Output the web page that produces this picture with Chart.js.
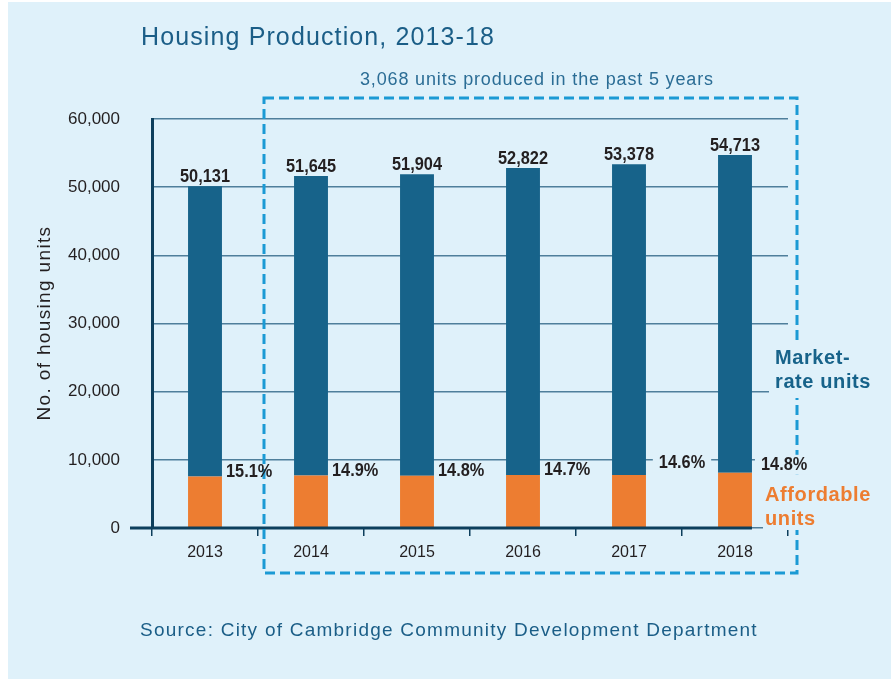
<!DOCTYPE html>
<html>
<head>
<meta charset="utf-8">
<title>Housing Production, 2013-18</title>
<script src="https://cdn.jsdelivr.net/npm/chart.js@4.4.1/dist/chart.umd.min.js"></script>
<style>
  html, body { margin: 0; padding: 0; background: #ffffff; }
  #wrap { width: 891px; height: 679px; }
</style>
</head>
<body>
<div id="wrap"><canvas id="housingChart" width="891" height="679"></canvas></div>
<script>
// housing production by year
const years = ['2013', '2014', '2015', '2016', '2017', '2018'];
const totalUnits = [50131, 51645, 51904, 52822, 53378, 54713];
const affordableShare = ['15.1%', '14.9%', '14.8%', '14.7%', '14.6%', '14.8%'];
const affordableUnits = [7570, 7695, 7682, 7765, 7793, 8098];
const marketRateUnits = [42561, 43950, 44222, 45057, 45585, 46615];
const yTicks = [0, 10000, 20000, 30000, 40000, 50000, 60000];

const BG = '#dff1fa';
const NAVY = '#17638a';
const ORANGE = '#ed7d31';
const AXIS = '#0d3f5c';
const GRID = '#4f7f9b';
const BOX = '#1b9ad4';
const INK = '#231f20';
const TITLE = '#1b5e87';

const SANS = '"Liberation Sans", Arial, sans-serif';

const fmt = n => n.toLocaleString('en-US');

// fills a rectangle with the page colour so text sits on a clean patch
function knockout(ctx, x, y, w, h) {
  ctx.save();
  ctx.fillStyle = BG;
  ctx.fillRect(x, y, w, h);
  ctx.restore();
}

// text spread out to a given width with letter spacing
function spreadText(ctx, text, x, y, width) {
  ctx.save();
  ctx.letterSpacing = '0px';
  const natural = ctx.measureText(text).width;
  ctx.letterSpacing = ((width - natural) / text.length).toFixed(2) + 'px';
  ctx.fillText(text, x, y);
  ctx.restore();
}

// bold figures, squeezed a little to look condensed
function condensed(ctx, text, x, y) {
  ctx.save();
  ctx.translate(x, y);
  ctx.scale(0.86, 1);
  ctx.fillText(text, 0, 0);
  ctx.restore();
}

const background = {
  id: 'background',
  beforeDraw(chart) {
    const { ctx, width, height } = chart;
    ctx.save();
    ctx.fillStyle = '#ffffff';
    ctx.fillRect(0, 0, width, height);
    ctx.fillStyle = BG;
    ctx.fillRect(8, 2, width - 8, height - 2);
    ctx.restore();
  }
};

const decorations = {
  id: 'decorations',
  afterDatasetsDraw(chart) {
    const { ctx, chartArea, scales: { x, y } } = chart;
    const blue = chart.getDatasetMeta(1).data;
    const orange = chart.getDatasetMeta(0).data;
    const last = blue[blue.length - 1];

    // title and source
    ctx.save();
    ctx.fillStyle = TITLE;
    ctx.textBaseline = 'alphabetic';
    ctx.font = '25px ' + SANS;
    spreadText(ctx, 'Housing Production, 2013-18', 141, 45, 354);
    ctx.font = '19px ' + SANS;
    spreadText(ctx, 'Source: City of Cambridge Community Development Department', 140, 636, 618);
    ctx.restore();

    // y axis title
    ctx.save();
    ctx.fillStyle = INK;
    ctx.font = '19px ' + SANS;
    ctx.textBaseline = 'middle';
    ctx.translate(45, (chartArea.top + chartArea.bottom) / 2);
    ctx.rotate(-Math.PI / 2);
    spreadText(ctx, 'No. of housing units', -97, 0, 195);
    ctx.restore();

    // baseline, starting a little left of the y axis
    ctx.save();
    ctx.strokeStyle = AXIS;
    ctx.lineWidth = 3;
    ctx.beginPath();
    ctx.moveTo(chartArea.left - 22, y.getPixelForValue(0));
    ctx.lineTo(last.x + last.width / 2, y.getPixelForValue(0));
    ctx.stroke();
    ctx.restore();

    // dashed frame around the last five years
    const boxL = (x.getPixelForValue(0) + x.getPixelForValue(1)) / 2 + 6;
    const boxR = chartArea.right + 9;
    const boxT = chartArea.top - 21;
    const boxB = chartArea.bottom + 45;
    ctx.save();
    ctx.strokeStyle = BOX;
    ctx.lineWidth = 3;
    ctx.setLineDash([10, 5]);
    ctx.strokeRect(boxL, boxT, boxR - boxL, boxB - boxT);
    ctx.restore();

    ctx.save();
    ctx.fillStyle = '#2b6d95';
    ctx.font = '18px ' + SANS;
    ctx.textBaseline = 'alphabetic';
    spreadText(ctx, '3,068 units produced in the past 5 years', 360, 85, 354);
    ctx.restore();

    // totals above each bar
    ctx.save();
    ctx.fillStyle = INK;
    ctx.font = 'bold 19px ' + SANS;
    ctx.textAlign = 'center';
    ctx.textBaseline = 'bottom';
    blue.forEach((bar, i) => {
      condensed(ctx, fmt(totalUnits[i]), bar.x, bar.y);
    });
    ctx.restore();

    // affordable share beside each bar
    ctx.save();
    ctx.font = 'bold 19px ' + SANS;
    ctx.textBaseline = 'middle';
    orange.forEach((bar, i) => {
      const label = affordableShare[i];
      const w = ctx.measureText(label).width * 0.86;
      let lx = bar.x + bar.width / 2 + 4;
      let ly = bar.y - 5;
      if (i === 4) {
        // 2017 sits on the gridline, halfway to the next bar
        const next = orange[i + 1];
        lx = (bar.x + next.x) / 2 - w / 2;
        ly = y.getPixelForValue(10000) + 3;
        knockout(ctx, lx - 6, ly - 10, w + 12, 20);
      } else if (i === orange.length - 1) {
        lx = bar.x + bar.width / 2 + 9;
        ly = bar.y - 8;
        knockout(ctx, lx - 6, ly - 10, w + 10, 20);
      }
      ctx.fillStyle = INK;
      condensed(ctx, label, lx, ly);
    });
    ctx.restore();

    // series labels on the right
    const lx = boxR - 22;
    ctx.save();
    ctx.font = 'bold 20px ' + SANS;
    ctx.textBaseline = 'alphabetic';
    knockout(ctx, lx - 6, 340, 110, 58);
    ctx.fillStyle = NAVY;
    ctx.letterSpacing = '0.6px';
    ctx.fillText('Market-', lx, 364);
    ctx.fillText('rate units', lx, 388);
    knockout(ctx, lx - 12, 478, 120, 52);
    ctx.fillStyle = ORANGE;
    ctx.fillText('Affordable', lx - 10, 501);
    ctx.fillText('units', lx - 10, 525);
    ctx.restore();
  }
};

new Chart(document.getElementById('housingChart'), {
  type: 'bar',
  data: {
    labels: years,
    datasets: [
      {
        label: 'Affordable units',
        data: affordableUnits,
        backgroundColor: ORANGE,
        barPercentage: 0.32,
        categoryPercentage: 1
      },
      {
        label: 'Market-rate units',
        data: marketRateUnits,
        backgroundColor: NAVY,
        barPercentage: 0.32,
        categoryPercentage: 1
      }
    ]
  },
  options: {
    responsive: false,
    animation: false,
    events: [],
    layout: {
      padding: { left: 0, right: 103, top: 119, bottom: 111 }
    },
    plugins: {
      legend: { display: false },
      tooltip: { enabled: false },
      title: { display: false }
    },
    scales: {
      x: {
        stacked: true,
        afterFit: s => { s.height = 40; },
        border: { display: false },
        grid: {
          drawOnChartArea: false,
          drawTicks: true,
          tickLength: 8,
          color: AXIS,
          lineWidth: 1.5
        },
        ticks: {
          color: INK,
          padding: 7,
          font: { family: SANS, size: 16 }
        }
      },
      y: {
        stacked: true,
        min: 0,
        max: 60000,
        afterFit: s => { s.width = 152; },
        afterBuildTicks: s => { s.ticks = yTicks.map(v => ({ value: v })); },
        border: { display: true, color: AXIS, width: 3 },
        grid: {
          drawTicks: false,
          color: GRID,
          lineWidth: 1.5
        },
        ticks: {
          color: INK,
          padding: 32,
          font: { family: SANS, size: 17 },
          callback: v => fmt(v)
        }
      }
    }
  },
  plugins: [background, decorations]
});
</script>
</body>
</html>
